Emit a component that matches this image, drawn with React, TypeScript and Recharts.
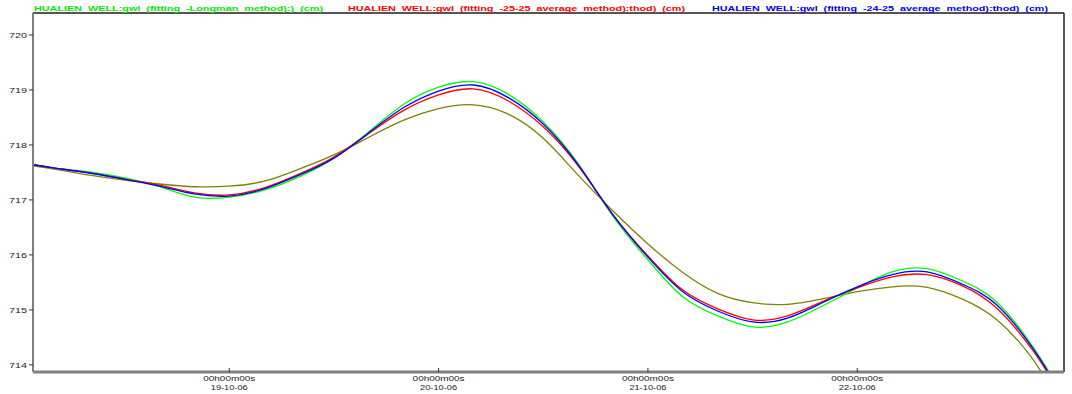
import React from 'react'
import { LineChart, Line, XAxis, YAxis, ReferenceLine } from 'recharts'

// hours counted from 19-10-06 00h00m00s
const hours = [-22.5, -20, -16, -12, -8, -4, 0, 4, 8, 12, 16, 20, 24, 28, 32, 36, 40, 44, 48, 52, 56, 60, 64, 68, 72, 76, 80, 84, 88, 92, 94.4]

const longmanGwl = [717.64, 717.58, 717.51, 717.4, 717.24, 717.05, 717.05, 717.18, 717.42, 717.76, 718.24, 718.74, 719.05, 719.15, 718.92, 718.42, 717.66, 716.7, 715.91, 715.24, 714.89, 714.69, 714.78, 715.07, 715.4, 715.69, 715.75, 715.53, 715.14, 714.36, 713.76]
const avg2525Gwl = [717.64, 717.58, 717.49, 717.38, 717.27, 717.13, 717.09, 717.22, 717.47, 717.78, 718.21, 718.63, 718.91, 719.02, 718.8, 718.33, 717.62, 716.73, 715.98, 715.36, 715.02, 714.82, 714.89, 715.15, 715.4, 715.6, 715.64, 715.44, 715.03, 714.29, 713.71]
const avg2425Gwl = [717.64, 717.58, 717.49, 717.38, 717.25, 717.11, 717.07, 717.2, 717.45, 717.76, 718.22, 718.68, 718.98, 719.09, 718.86, 718.38, 717.64, 716.73, 715.96, 715.33, 714.98, 714.78, 714.85, 715.13, 715.42, 715.64, 715.69, 715.47, 715.09, 714.33, 713.73]
const tideGwl = [717.62, 717.56, 717.45, 717.36, 717.29, 717.24, 717.25, 717.34, 717.56, 717.82, 718.14, 718.45, 718.66, 718.73, 718.56, 718.12, 717.45, 716.8, 716.2, 715.68, 715.3, 715.13, 715.1, 715.2, 715.33, 715.42, 715.41, 715.2, 714.82, 714.13, 713.51]

const yTicks = [714, 715, 716, 717, 718, 719, 720]
const dayTicks = [0, 24, 48, 72]
const dayLabels = ['19-10-06', '20-10-06', '21-10-06', '22-10-06']
const timeLabel = '00h00m00s'

const legendNames = [
  'HUALIEN  WELL:gwl  (fitting  -Longman  method):)  (cm)',
  'HUALIEN  WELL:gwl  (fitting  -25-25  average  method):thod)  (cm)',
  'HUALIEN  WELL:gwl  (fitting  -24-25  average  method):thod)  (cm)',
]

const data = hours.map((t, i) => ({
  t,
  longman: longmanGwl[i],
  avg2525: avg2525Gwl[i],
  avg2425: avg2425Gwl[i],
  tide: tideGwl[i],
}))

const font = 'Arial, "Liberation Sans", sans-serif'
const xMin = -22.5
const xMax = 95.7
const yMin = 713.87
const yMax = 720.4

const YTick = ({ x, y, payload }: any) => (
  <text x={x} y={y} dy={3} textAnchor="end" fontSize={8} fontFamily={font} fill="#222"
    textLength={18} lengthAdjust="spacingAndGlyphs">
    {payload.value}
  </text>
)

const XTick = ({ x, y, payload }: any) => {
  const label = dayLabels[dayTicks.indexOf(payload.value)]
  return (
    <g>
      <line x1={x} x2={x} y1={y - 4} y2={y} stroke="#333" strokeWidth={1} />
      <text x={x} y={y + 9} textAnchor="middle" fontSize={8} fontFamily={font} fill="#222"
        textLength={52} lengthAdjust="spacingAndGlyphs">
        {timeLabel}
      </text>
      <text x={x} y={y + 18} textAnchor="middle" fontSize={8} fontFamily={font} fill="#222"
        textLength={37} lengthAdjust="spacingAndGlyphs">
        {label}
      </text>
    </g>
  )
}

const legendItems = [
  { name: legendNames[0], color: '#00ee00', x: 34, len: 289 },
  { name: legendNames[1], color: '#ff0000', x: 348, len: 337 },
  { name: legendNames[2], color: '#0000ff', x: 712, len: 336 },
]

export default function App() {
  return (
    <div style={{ position: 'absolute', left: 0, top: 0, width: 1072, height: 394, background: '#fff' }}>
      <LineChart width={1072} height={394} data={data} margin={{ top: 13, right: 8, bottom: 0, left: 0 }}>
        <XAxis
          dataKey="t"
          type="number"
          domain={[xMin, xMax]}
          ticks={dayTicks}
          allowDataOverflow
          height={22}
          tickSize={0}
          tickMargin={0}
          tickLine={false}
          tick={<XTick />}
          axisLine={{ stroke: '#808080', strokeWidth: 3 }}
        />
        <YAxis
          type="number"
          domain={[yMin, yMax]}
          ticks={yTicks}
          allowDataOverflow
          width={33}
          tickSize={4}
          tickMargin={2}
          tick={<YTick />}
          tickLine={{ stroke: '#333' }}
          axisLine={{ stroke: '#808080', strokeWidth: 2 }}
        />
        <ReferenceLine y={yMax} stroke="#555" strokeWidth={2} />
        <ReferenceLine x={xMax} stroke="#222" strokeWidth={1.5} />
        <Line dataKey="tide" type="natural" stroke="#808000" strokeWidth={1.3} dot={false} isAnimationActive={false} />
        <Line dataKey="longman" type="natural" stroke="#00ff00" strokeWidth={1.3} dot={false} isAnimationActive={false} />
        <Line dataKey="avg2525" type="natural" stroke="#ff0000" strokeWidth={1.3} dot={false} isAnimationActive={false} />
        <Line dataKey="avg2425" type="natural" stroke="#0000ff" strokeWidth={1.3} dot={false} isAnimationActive={false} />
      </LineChart>
      <svg width={1072} height={14} style={{ position: 'absolute', left: 0, top: 0 }}>
        {legendItems.map((item) => (
          <text key={item.name} x={item.x} y={11} fontSize={8} fontWeight="bold" fontFamily={font}
            fill={item.color} textLength={item.len} lengthAdjust="spacingAndGlyphs" style={{ whiteSpace: 'pre' }}>
            {item.name}
          </text>
        ))}
      </svg>
    </div>
  )
}
